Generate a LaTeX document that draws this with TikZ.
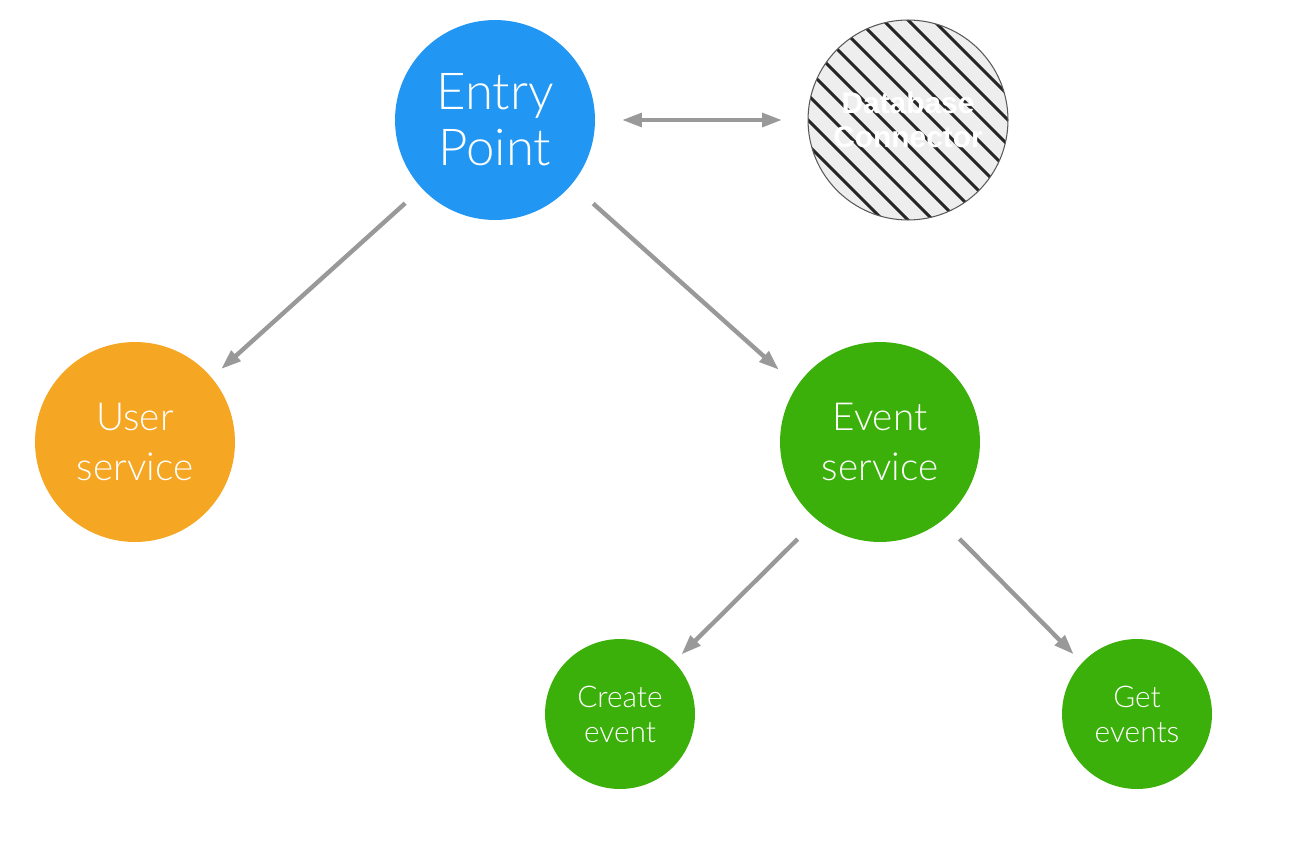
\documentclass[tikz,border=0pt]{standalone}
\usepackage{fontspec}
\setmainfont{Lato Light}
\newfontfamily\dbfont{Liberation Sans}
\usetikzlibrary{arrows.meta}

\definecolor{entryblue}{HTML}{2196F3}
\definecolor{userorange}{HTML}{F5A623}
\definecolor{eventgreen}{HTML}{3CB00A}
\definecolor{linkgray}{HTML}{999999}
\definecolor{dbgray}{HTML}{EEEEEE}

\tikzset{
  bigsvc/.style={circle, minimum size=4cm, inner sep=0pt, outer sep=0pt, text=white, align=center,
    font=\fontsize{22}{28}\selectfont},
  smallsvc/.style={circle, minimum size=3cm, inner sep=0pt, outer sep=0pt, text=white, align=center,
    font=\fontsize{17}{20}\selectfont, fill=eventgreen},
  link/.style={draw=linkgray, line width=2.5pt, -{Triangle[length=0.4cm,width=0.27cm]}},
}

\begin{document}
\begin{tikzpicture}[x=0.02cm, y=-0.02cm]
    \useasboundingbox (0,0) rectangle (1298,862);

    \node[bigsvc, fill=entryblue, font=\fontsize{29}{32}\selectfont](entry) at (495,120){Entry\\Point};
    \node[bigsvc, fill=dbgray, draw=black!65, line width=0.6pt, text=white, font=\dbfont\bfseries\fontsize{17}{19}\selectfont,
        path picture={
            \foreach \k in {-8,...,8}
                \draw[black!85, line width=1.7pt]
                    ([xshift=\k*0.25cm-3cm, yshift=\k*0.25cm+3cm]path picture bounding box.center)--
                    ([xshift=\k*0.25cm+3cm, yshift=\k*0.25cm-3cm]path picture bounding box.center);
        }](db) at (908,120){Database\\Connector};

    \node[bigsvc, fill=userorange](user) at (135,442){User\\service};
    \node[bigsvc, fill=eventgreen](event) at (880,442){Event\\service};

    \node[smallsvc](create) at (620,714){Create\\event};
    \node[smallsvc](get) at (1137,714){Get\\events};

    \draw[link, shorten <=0.45cm, shorten >=0.26cm](entry.223)--(user.40);
    \draw[link, shorten <=0.58cm, shorten >=0.49cm](entry.-40)--(event.146);
    \draw[link, shorten <=0.55cm, shorten >=0.21cm](event.231)--(create.44);
    \draw[link, shorten <=0.51cm, shorten >=0.24cm](event.-52)--(get.137);
    \draw[link, {Triangle[length=0.4cm,width=0.27cm]}-{Triangle[length=0.4cm,width=0.27cm]},
        shorten <=0.54cm, shorten >=0.52cm](entry)--(db);
\end{tikzpicture}
\end{document}
